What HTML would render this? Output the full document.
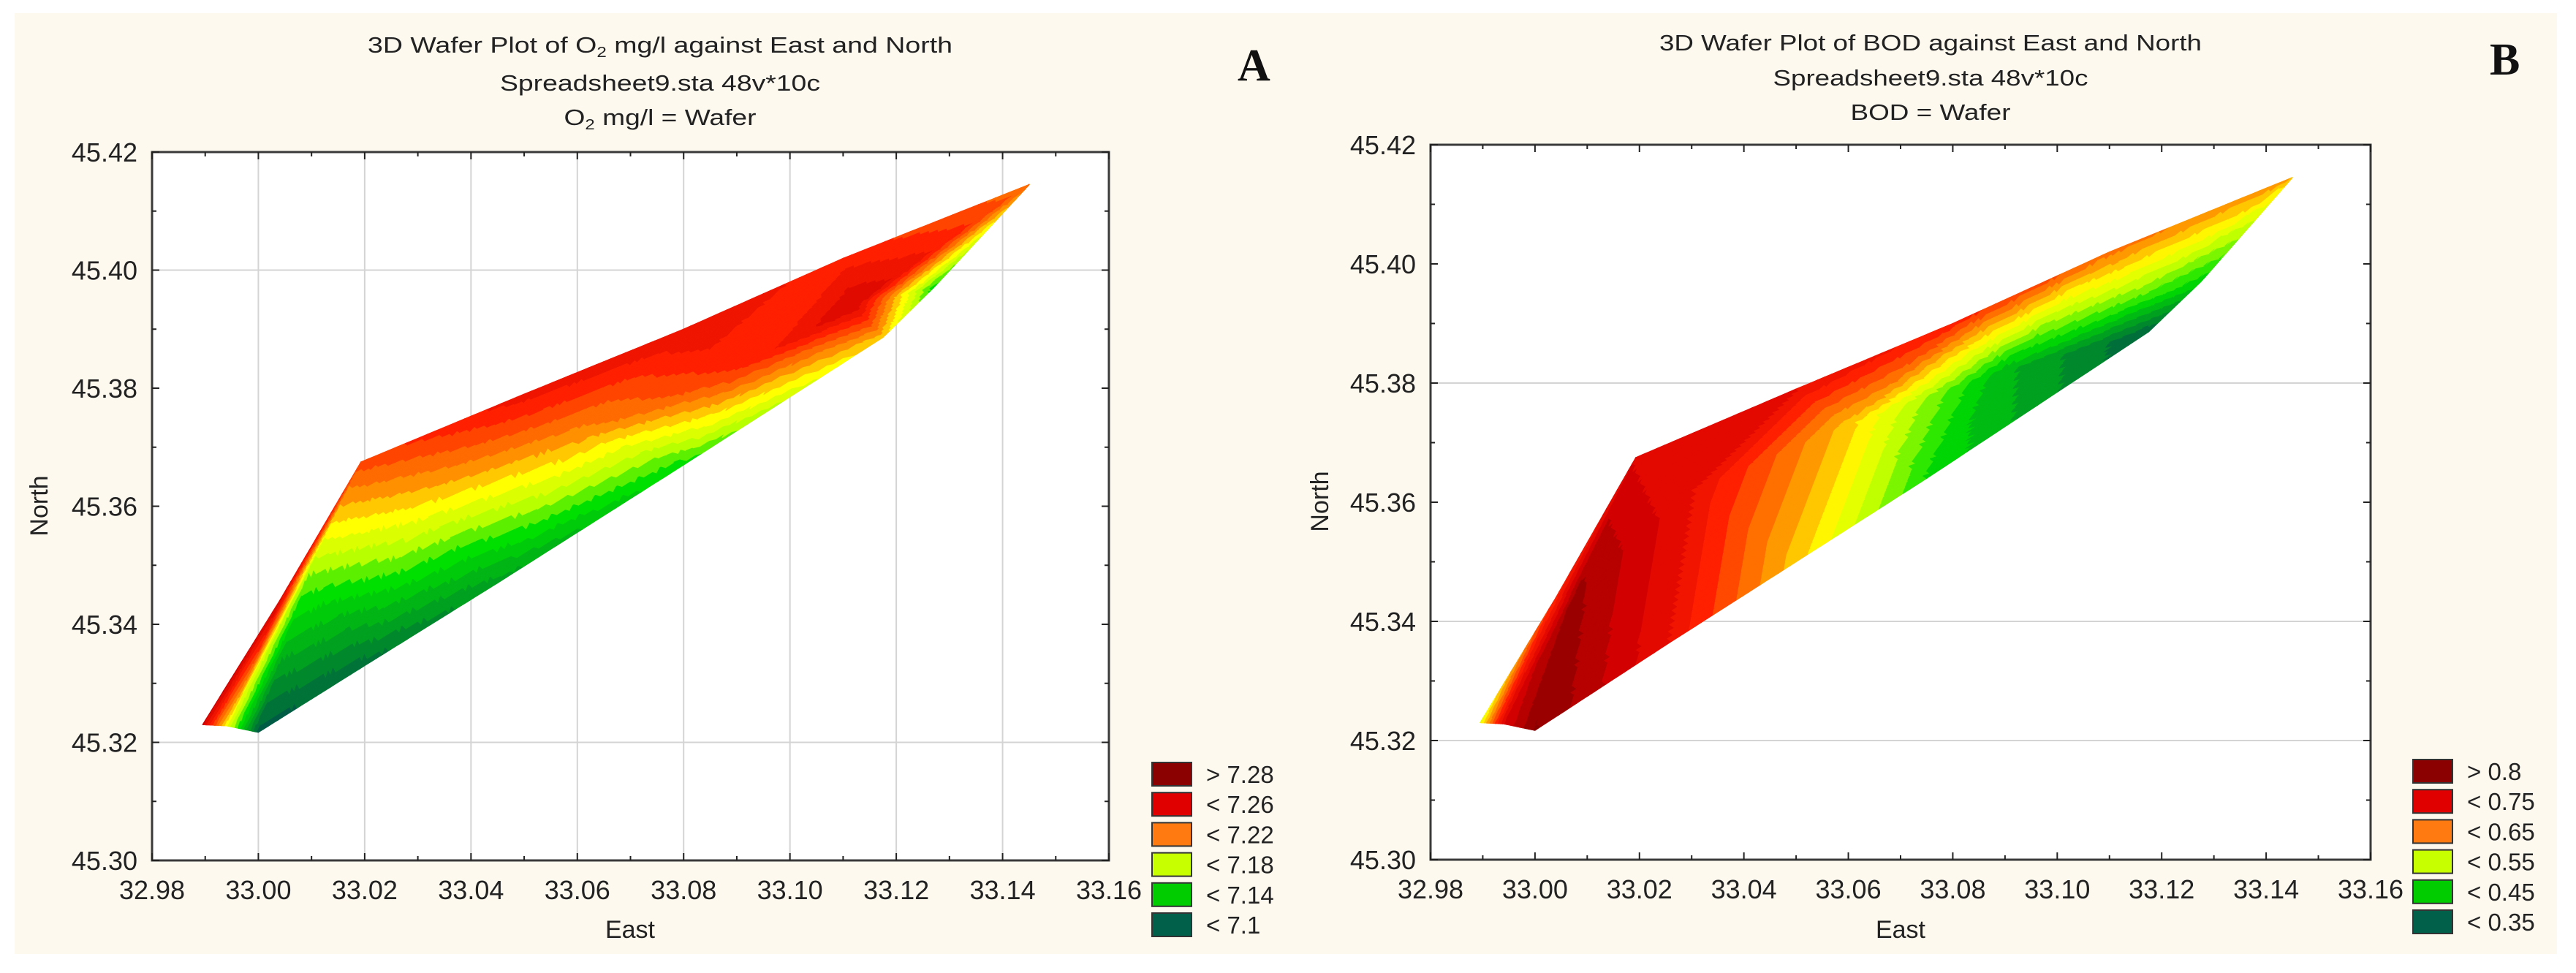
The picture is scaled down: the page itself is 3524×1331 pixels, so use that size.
<!DOCTYPE html>
<html><head><meta charset="utf-8"><title>3D Wafer Plots</title>
<style>html,body{margin:0;padding:0;background:#fff;}svg{display:block;}</style>
</head><body>
<svg id="fig" width="3524" height="1331" viewBox="0 0 3524 1331" xmlns="http://www.w3.org/2000/svg" font-family="Liberation Sans, Arial, sans-serif">
<rect x="20" y="18" width="3478" height="1287" fill="#fdf9ef"/>
<g id="panelA"></g>
<g id="panelB"></g>
</svg>
<script>
// ---------- data ----------
const xTicks = [32.98,33.00,33.02,33.04,33.06,33.08,33.10,33.12,33.14,33.16];
const yTicks = [45.30,45.32,45.34,45.36,45.38,45.40,45.42];
// Panel A (O2 mg/l) wafer mesh: [East, North, value]
const aTop = [[32.9895,45.323,7.27],[33.004,45.344,7.265],[33.0193,45.3675,7.23],[33.05,45.379,7.25],[33.08,45.390,7.255],[33.11,45.402,7.24],[33.145,45.4145,7.22]];
const aMid = [[32.994,45.3228,7.19],[33.010,45.350,7.17],[33.03,45.360,7.195],[33.06,45.372,7.21],[33.09,45.383,7.235],[33.112,45.394,7.265],[33.145,45.4145,7.22]];
const aBot = [[33.000,45.3217,7.09],[33.02,45.333,7.10],[33.045,45.347,7.12],[33.08,45.367,7.15],[33.1175,45.3886,7.20],[33.127,45.397,7.15],[33.145,45.4145,7.20]];
const aLegendLabels = ["> 7.28","< 7.26","< 7.22","< 7.18","< 7.14","< 7.1"];
const aStops = [[7.09,"#005c44"],[7.12,"#00a020"],[7.15,"#00e000"],[7.17,"#b8ff00"],[7.19,"#ffff00"],[7.21,"#ff9000"],[7.24,"#ff2000"],[7.27,"#d00000"],[7.29,"#8a0000"]];
// Panel B (BOD) wafer mesh
const bTop = [[32.9895,45.323,0.55],[33.004,45.344,0.70],[33.0193,45.3675,0.76],[33.05,45.379,0.74],[33.08,45.390,0.70],[33.11,45.402,0.65],[33.145,45.4145,0.62]];
const bMid = [[32.994,45.3228,0.76],[33.008,45.345,0.82],[33.03,45.362,0.74],[33.06,45.373,0.60],[33.09,45.382,0.42],[33.118,45.395,0.48],[33.145,45.4145,0.60]];
const bBot = [[33.000,45.3217,0.84],[33.025,45.336,0.74],[33.05,45.350,0.60],[33.075,45.364,0.46],[33.1175,45.3886,0.34],[33.1275,45.397,0.45],[33.145,45.4145,0.58]];
const bLegendLabels = ["> 0.8","< 0.75","< 0.65","< 0.55","< 0.45","< 0.35"];
const bStops = [[0.33,"#005c44"],[0.40,"#00a020"],[0.46,"#00e000"],[0.52,"#b8ff00"],[0.57,"#ffff00"],[0.63,"#ff9000"],[0.70,"#ff2000"],[0.77,"#d80000"],[0.84,"#8a0000"]];
const legendColors = ["#8b0000","#e00000","#ff7a10","#c8ff00","#00cc00","#00604a"];

const NS = "http://www.w3.org/2000/svg";
function el(tag, attrs, parent){const e=document.createElementNS(NS,tag);for(const k in attrs)e.setAttribute(k,attrs[k]);parent.appendChild(e);return e;}
function hex(c){return [parseInt(c.slice(1,3),16),parseInt(c.slice(3,5),16),parseInt(c.slice(5,7),16)];}
function cmap(stops, v){
  if(v<=stops[0][0]) return stops[0][1];
  for(let i=1;i<stops.length;i++){
    if(v<=stops[i][0]){const t=(v-stops[i-1][0])/(stops[i][0]-stops[i-1][0]);
      const a=hex(stops[i-1][1]),b=hex(stops[i][1]);
      return "rgb("+a.map((x,j)=>Math.round(x+(b[j]-x)*t)).join(",")+")";}
  }
  return stops[stops.length-1][1];
}

function panel(g, cfg){
  const X = v => cfg.x0 + (v-32.98)/0.18*(cfg.x1-cfg.x0);
  const Y = v => cfg.y1 - (v-45.30)/0.12*(cfg.y1-cfg.y0);
  el("rect",{x:cfg.x0,y:cfg.y0,width:cfg.x1-cfg.x0,height:cfg.y1-cfg.y0,fill:"#ffffff"},g);
  // gridlines
  const grid = el("g",{stroke:"#d4d4d4","stroke-width":2},g);
  
  
  cfg.vgrid.forEach(v=>el("line",{x1:X(v),x2:X(v),y1:cfg.y0,y2:cfg.y1},grid));
  cfg.hgrid.forEach(v=>el("line",{x1:cfg.x0,x2:cfg.x1,y1:Y(v),y2:Y(v)},grid));
  // wafer
  const w = el("g",{},g);
  
  
  const tris=[];
  const strip=(A,B)=>{for(let i=0;i<A.length-1;i++){tris.push([A[i],A[i+1],B[i]]);tris.push([B[i],A[i+1],B[i+1]]);}};
  strip(cfg.top,cfg.mid); strip(cfg.mid,cfg.bot);
  const N=22;
  tris.forEach(t=>{
    const P=t.map(p=>[X(p[0]),Y(p[1]),p[2]]);
    const pt=(i,j)=>{const a=i/N,b=j/N,c=1-a-b;return [P[0][0]*c+P[1][0]*a+P[2][0]*b,P[0][1]*c+P[1][1]*a+P[2][1]*b,P[0][2]*c+P[1][2]*a+P[2][2]*b];};
    for(let i=0;i<N;i++)for(let j=0;j<N-i;j++){
      const sub=[[pt(i,j),pt(i+1,j),pt(i,j+1)]];
      if(j<N-i-1) sub.push([pt(i+1,j),pt(i+1,j+1),pt(i,j+1)]);
      sub.forEach(s=>{
        let v=(s[0][2]+s[1][2]+s[2][2])/3;
        v=Math.round(v/cfg.step)*cfg.step;
        const col=cmap(cfg.stops,v);
        el("polygon",{points:s.map(q=>q[0].toFixed(1)+","+q[1].toFixed(1)).join(" "),fill:col,stroke:col,"stroke-width":1.2,"stroke-linejoin":"round"},w);
      });
    }
  });
  // frame and ticks
  const ax = el("g",{},g);
  
  
  el("rect",{x:cfg.x0,y:cfg.y0,width:cfg.x1-cfg.x0,height:cfg.y1-cfg.y0,fill:"none",stroke:"#3a3a3a","stroke-width":3},ax);
  for(let k=0;k<xTicks.length*2-1;k++){
    const v=32.98+k*0.01, L=(k%2==0)?10:6, x=X(v);
    el("line",{x1:x,x2:x,y1:cfg.y1,y2:cfg.y1-L,stroke:"#222","stroke-width":2},ax);
    el("line",{x1:x,x2:x,y1:cfg.y0,y2:cfg.y0+L,stroke:"#222","stroke-width":2},ax);
  }
  for(let k=0;k<yTicks.length*2-1;k++){
    const v=45.30+k*0.01, L=(k%2==0)?10:6, y=Y(v);
    el("line",{x1:cfg.x0,x2:cfg.x0+L,y1:y,y2:y,stroke:"#222","stroke-width":2},ax);
    el("line",{x1:cfg.x1,x2:cfg.x1-L,y1:y,y2:y,stroke:"#222","stroke-width":2},ax);
  }
  xTicks.forEach(v=>{const t=el("text",{x:X(v),y:cfg.y1+53,"font-size":36,"text-anchor":"middle",fill:"#222"},g);t.textContent=v.toFixed(2);
    
    });
  yTicks.forEach(v=>{const t=el("text",{x:cfg.x0-20,y:Y(v)+13,"font-size":36,"text-anchor":"end",fill:"#222"},g);t.textContent=v.toFixed(2);
    
    });
  const xt=el("text",{x:cfg.eastX,y:1283,"font-size":34,"text-anchor":"middle",fill:"#222"},g);xt.textContent="East";
  
  
  const yt=el("text",{x:0,y:0,"font-size":34,"text-anchor":"middle",fill:"#222",transform:"translate("+(cfg.northX+12)+","+cfg.northY+") rotate(-90)"},g);yt.textContent="North";
  
  
  // titles
  cfg.titles.forEach((tl,i)=>{
    const t=el("text",{x:cfg.titleX,y:cfg.titleY[i],"font-size":31,"text-anchor":"middle",fill:"#222",textLength:cfg.titleW[i],lengthAdjust:"spacingAndGlyphs"},g);
    tl.forEach(part=>{const s=el("tspan",part[1]?{"font-size":20,dy:6}:{dy:part[2]||0},t);s.textContent=part[0];});
    
    
  });
  const pl=el("text",{x:cfg.letterX,y:cfg.letterY,"font-size":62,"font-weight":"bold","font-family":"Liberation Serif, serif",fill:"#111"},g);pl.textContent=cfg.letter;
  
  
  // legend
  const lg=el("g",{},g);
  
  
  cfg.legend.forEach((lab,i)=>{
    const cy=cfg.legY+i*cfg.legDy;
    const r=el("rect",{x:cfg.legX,y:cy-16,width:54,height:32,fill:legendColors[i],stroke:"#333","stroke-width":2},lg);
    
    
    const t=el("text",{x:cfg.legX+74,y:cy+12,"font-size":33,fill:"#222"},lg);t.textContent=lab;
    
    
  });
}

panel(document.getElementById("panelA"),{
  x0:208,x1:1517,y0:208,y1:1177,top:aTop,mid:aMid,bot:aBot,stops:aStops,step:0.01,
  vgrid:[33.00,33.02,33.04,33.06,33.08,33.10,33.12,33.14],hgrid:[45.32,45.40],
  eastX:862,northX:53,northY:692,titleX:903,titleY:[72,124,171],titleW:[800,438,263],
  titles:[[["3D Wafer Plot of O"],["2",true],[" mg/l against East and North",false,-6]],[["Spreadsheet9.sta 48v*10c"]],[["O"],["2",true],[" mg/l = Wafer",false,-6]]],
  letter:"A",letterX:1693,letterY:110,legend:aLegendLabels,legX:1576,legY:1059,legDy:41.2
});
panel(document.getElementById("panelB"),{
  x0:1957,x1:3243,y0:198,y1:1176,top:bTop,mid:bMid,bot:bBot,stops:bStops,step:0.025,
  vgrid:[],hgrid:[45.32,45.34,45.38],
  eastX:2600,northX:1805,northY:686,titleX:2641,titleY:[69,117,164],titleW:[742,431,219],
  titles:[[["3D Wafer Plot of BOD against East and North"]],[["Spreadsheet9.sta 48v*10c"]],[["BOD = Wafer"]]],
  letter:"B",letterX:3406,letterY:102,legend:bLegendLabels,legX:3301,legY:1055,legDy:41.2
});
</script>
</body></html>
